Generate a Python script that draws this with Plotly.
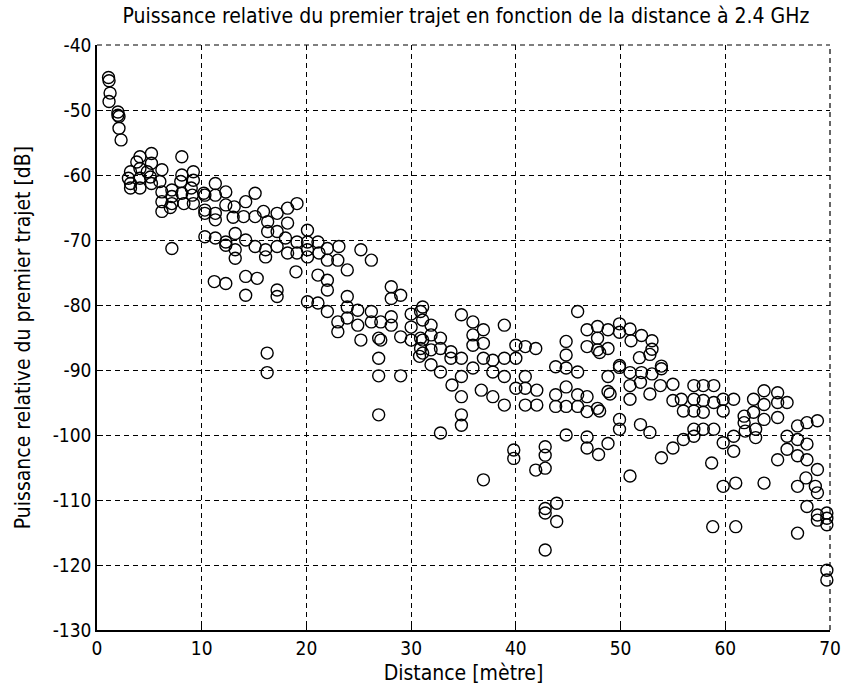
import plotly.graph_objects as go

# Distance [m] and relative first-path power [dB]
distance_m = [
    1.1, 1.15, 1.25, 1.15, 2.0, 2.1, 2.1, 2.3, 2.0,
    3.2, 3.2, 3.0, 3.2, 4.1, 4.1, 4.1, 4.1, 3.8,
    5.2, 5.2, 5.1, 5.2, 4.8, 6.2, 6.2, 6.2, 6.2, 6.0,
    7.15, 7.15, 7.15, 7.15, 7.0, 8.1, 8.1, 8.1, 8.3, 8.0,
    9.2, 9.2, 9.1, 9.2, 9.0, 10.3, 10.3, 10.3, 10.2, 10.3,
    11.3, 11.3, 11.3, 11.3, 11.3, 11.2, 12.3, 12.3, 12.3, 12.3, 12.3,
    13.1, 13.2, 13.2, 13.2, 13.0, 14.2, 14.0, 14.2, 14.2, 14.2,
    15.1, 15.1, 15.1, 15.3, 16.3, 16.3, 16.1, 16.1, 16.25, 16.25, 15.9,
    17.2, 17.2, 17.2, 17.2, 17.2, 18.2, 18.2, 18.0, 18.2,
    19.1, 19.1, 19.1, 19.0, 20.1, 20.1, 20.1, 20.1, 20.1,
    21.1, 21.2, 21.1, 21.1, 22.0, 22.0, 22.0, 22.0, 22.0,
    23.1, 23.0, 23.0, 23.0, 23.9, 23.9, 23.9, 23.9,
    24.9, 24.9, 25.2, 25.2, 26.2, 26.2, 26.2, 26.9,
    27.1, 27.1, 26.9, 26.9, 26.9, 28.1, 28.1, 28.1, 28.1,
    29.0, 29.0, 29.0, 30.0, 30.0, 30.0, 31.1, 31.1, 31.1, 31.1,
    30.9, 30.9, 30.9, 30.8, 31.9, 31.9, 31.9, 31.9,
    32.8, 32.8, 32.8, 32.8, 33.8, 33.8, 33.9,
    34.8, 34.8, 34.8, 34.8, 34.8, 34.8, 35.9, 35.9, 35.9, 35.9,
    36.9, 36.9, 36.9, 36.7, 36.9, 37.8, 37.8, 37.8,
    38.9, 38.9, 38.9, 38.9, 40.0, 40.0, 40.0, 39.8, 39.8,
    40.9, 40.9, 40.9, 40.9, 41.9, 42.0, 42.0, 41.9,
    42.8, 42.8, 42.8, 42.8, 42.8, 42.8, 43.8, 43.8, 43.8, 43.9, 43.9,
    44.8, 44.8, 44.8, 44.8, 44.8, 44.8, 45.9, 45.9, 45.9, 45.9,
    46.8, 46.8, 46.8, 46.8, 46.8, 46.8, 47.8, 47.8, 47.8, 47.8, 47.9,
    48.8, 48.8, 48.8, 48.8, 48.8, 48.0, 49.0,
    49.9, 49.9, 50.9, 51.0, 52.0, 53.0, 53.0, 51.8, 52.8, 49.9, 53.9, 48.0,
    49.9, 50.9, 52.0, 53.0, 53.9,
    49.9, 49.9, 50.9, 50.9, 51.9, 52.8, 53.8,
    55.0, 55.0, 55.8, 56.0, 57.0, 57.0, 57.0, 57.9, 57.9, 57.9, 58.9, 58.9,
    59.8, 59.8, 60.8, 61.8, 61.8, 62.7, 63.7, 65.0, 63.7, 65.0, 65.9, 63.7, 65.0,
    62.7, 61.9, 62.9, 62.9, 60.8, 59.8, 60.8, 57.0, 57.9, 58.9, 57.0, 56.0, 55.0,
    53.9, 51.9, 52.8, 58.7, 50.9, 59.8, 61.0, 63.7,
    65.9, 66.9, 67.8, 68.8, 65.9, 66.9, 67.8, 65.0, 66.9, 67.8, 68.8, 67.7,
    66.9, 68.6, 68.8, 67.8, 68.8, 69.7, 69.7,
    58.8, 61.0, 66.9, 69.7, 69.7, 69.7, 68.8,
]

power_db = [
    -45.0, -45.5, -47.4, -48.7, -50.3, -51.0, -52.8, -54.6, -50.8,
    -59.5, -61.3, -60.5, -62.0, -57.2, -59.0, -60.5, -62.0, -58.0,
    -56.7, -58.2, -60.3, -61.3, -59.5, -59.2, -62.6, -64.1, -65.6, -61.0,
    -62.3, -63.3, -64.4, -71.3, -65.0, -57.2, -60.0, -62.8, -64.4, -61.0,
    -59.5, -60.8, -63.1, -64.4, -62.0, -63.1, -65.4, -69.5, -62.8, -65.9,
    -61.3, -63.1, -65.9, -66.9, -69.7, -76.4, -62.6, -64.6, -70.3, -70.8, -76.7,
    -64.9, -69.0, -71.5, -72.8, -66.5, -64.1, -66.4, -70.0, -75.6, -78.5,
    -62.8, -66.4, -71.0, -75.9, -67.2, -68.7, -71.5, -72.6, -87.4, -90.4, -65.6,
    -65.9, -68.7, -71.0, -77.7, -78.7, -65.1, -67.4, -69.7, -72.0,
    -64.4, -70.3, -72.0, -74.9, -68.5, -70.3, -71.5, -72.6, -79.5,
    -70.3, -72.0, -75.4, -79.7, -71.3, -73.1, -76.2, -77.7, -81.0,
    -71.0, -73.1, -82.6, -84.1, -74.6, -78.7, -80.3, -82.0,
    -80.8, -83.1, -71.5, -85.4, -73.1, -81.0, -82.6, -85.1,
    -82.6, -85.4, -88.2, -90.9, -96.9, -77.2, -79.0, -81.8, -83.1,
    -78.5, -84.9, -90.9, -81.4, -83.4, -85.4, -80.3, -82.3, -85.4, -87.4,
    -81.0, -85.1, -86.7, -87.9, -83.1, -84.6, -86.9, -89.2,
    -85.1, -86.7, -90.3, -99.7, -87.2, -88.2, -92.3,
    -81.5, -88.2, -91.0, -94.1, -96.9, -98.5, -82.6, -84.6, -86.2, -89.7,
    -83.8, -85.9, -88.2, -93.1, -106.9, -88.5, -90.3, -94.1,
    -83.1, -88.2, -91.0, -95.4, -86.2, -88.2, -92.8, -102.3, -103.6,
    -86.4, -91.0, -92.8, -95.4, -86.7, -93.1, -95.4, -105.4,
    -101.8, -103.1, -105.1, -111.3, -112.0, -117.7, -89.5, -93.8, -95.6, -110.5, -113.3,
    -85.6, -87.7, -89.7, -92.6, -95.6, -100.0, -81.0, -90.3, -93.8, -95.6,
    -83.8, -86.4, -94.1, -96.4, -100.3, -102.0, -83.3, -85.1, -86.9, -95.9, -103.0,
    -83.8, -86.7, -91.0, -93.3, -101.3, -96.3, -93.7,
    -82.9, -84.2, -83.7, -85.5, -84.7, -85.5, -86.8, -88.1, -87.6, -89.6, -89.4, -87.3,
    -89.3, -90.4, -90.4, -90.6, -89.8,
    -97.6, -99.1, -92.4, -94.5, -91.9, -93.7, -92.4,
    -92.2, -94.7, -94.5, -96.3, -92.4, -94.5, -96.3, -92.4, -94.7, -96.5, -92.4, -95.0,
    -94.5, -96.3, -94.5, -97.1, -98.1, -94.5, -93.2, -93.5, -95.3, -95.0, -95.0, -97.6, -97.3,
    -96.5, -99.4, -99.1, -100.4, -100.2, -101.2, -102.5, -99.1, -99.1, -99.1, -100.2, -100.7, -102.0,
    -103.5, -98.4, -99.6, -104.3, -106.3, -107.9, -107.4, -107.4,
    -100.2, -98.6, -98.1, -97.8, -102.2, -100.7, -101.4, -103.8, -103.2, -103.8, -105.3, -106.6,
    -107.9, -107.9, -108.9, -111.0, -112.3, -112.0, -112.8,
    -114.1, -114.1, -115.1, -120.8, -122.3, -113.8, -113.1,
]

x_ticks = [0, 10, 20, 30, 40, 50, 60, 70]
y_ticks = [-130, -120, -110, -100, -90, -80, -70, -60, -50, -40]

title_text = "Puissance relative du premier trajet en fonction de la distance à 2.4 GHz"
x_label = "Distance [mètre]"
y_label = "Puissance relative du premier trajet [dB]"

FONT = "Liberation Sans Narrow, DejaVu Sans Condensed, Arial Narrow, sans-serif"
DASH = "5px,4px"

fig = go.Figure()
fig.add_trace(go.Scatter(
    x=distance_m, y=power_db, mode="markers",
    marker=dict(symbol="circle-open", size=12, color="black",
                line=dict(color="black", width=1.4)),
    showlegend=False, cliponaxis=False,
))

axis_common = dict(
    showgrid=True, gridcolor="black", gridwidth=1, griddash=DASH,
    zeroline=False, showline=True, linecolor="black", linewidth=1.5,
    ticks="inside", ticklen=6, tickcolor="black", tickwidth=1,
    tickfont=dict(family=FONT, size=19, color="black"),
    mirror=False, automargin=False,
)

fig.update_layout(
    width=844, height=691,
    margin=dict(l=97, r=14, t=45, b=61),
    paper_bgcolor="white", plot_bgcolor="white",
    font=dict(family=FONT, color="black"),
    title=dict(text=title_text, x=0.552, xanchor="center", y=0.977, yanchor="middle",
               font=dict(family=FONT, size=21, color="black")),
    xaxis=dict(range=[0, 70], tickvals=x_ticks, ticktext=[str(v) for v in x_ticks],
               title=dict(text=x_label, standoff=8,
                          font=dict(family=FONT, size=21, color="black")),
               **axis_common),
    yaxis=dict(range=[-130, -40], tickvals=y_ticks, ticktext=[str(v) for v in y_ticks],
               title=dict(text=y_label, standoff=16,
                          font=dict(family=FONT, size=21, color="black")),
               **axis_common),
    xaxis2=dict(range=[0, 70], overlaying="x", side="top", tickvals=x_ticks,
                showticklabels=False, ticks="inside", ticklen=6, tickcolor="black",
                showgrid=False, zeroline=False, showline=False, automargin=False),
    yaxis2=dict(range=[-130, -40], overlaying="y", side="right", tickvals=y_ticks,
                showticklabels=False, ticks="inside", ticklen=6, tickcolor="black",
                showgrid=False, zeroline=False, showline=False, automargin=False),
)

# dashed top and right frame edges, as in the reference
fig.add_shape(type="line", xref="paper", yref="paper", x0=0, x1=1, y0=1, y1=1,
              line=dict(color="black", width=1.2, dash=DASH))
fig.add_shape(type="line", xref="paper", yref="paper", x0=1, x1=1, y0=0, y1=1,
              line=dict(color="black", width=1.2, dash=DASH))

fig.write_html("out.html")
